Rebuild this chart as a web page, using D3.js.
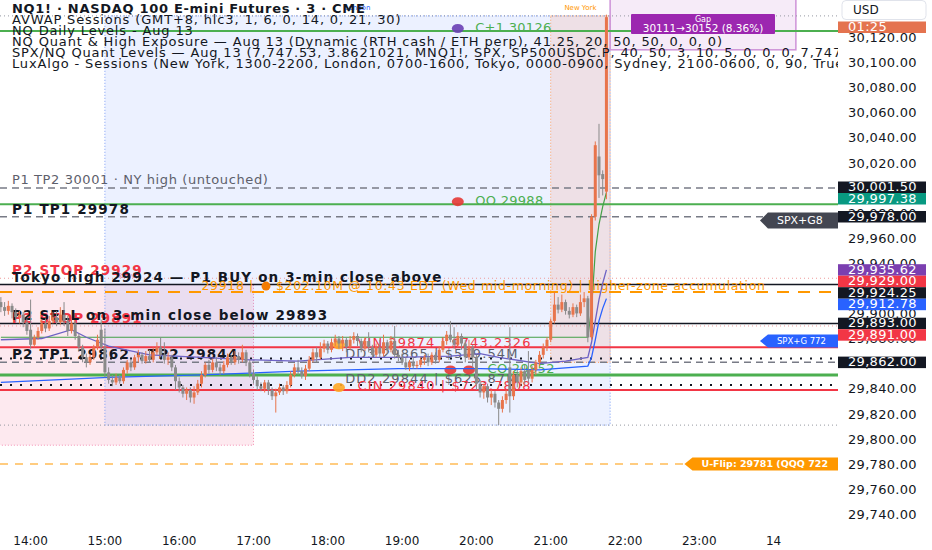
<!DOCTYPE html>
<html>
<head>
<meta charset="utf-8">
<script src="https://cdn.jsdelivr.net/npm/d3@7"></script>
<style>
  html, body { margin: 0; padding: 0; background: #fff; }
  svg { display: block; font-family: "DejaVu Sans", sans-serif; }
</style>
</head>
<body>
<svg id="chart" width="932" height="550"></svg>
<script>
// NQ1! 3-min candles, first bar at 13:36 (GMT+8)
const firstBar = "13:36";
const opens = [29910,29906,29903,29907,29902,29898,29900,29894,29888,29876,
  29882,29887,29893,29889,29895,29898,29894,29900,29895,29887,
  29893,29883,29874,29866,29862,29866,29874,29888,29874,29854,
  29848,29846,29850,29847,29856,29862,29858,29866,29868,29863,
  29867,29864,29870,29874,29868,29864,29866,29858,29847,29842,
  29837,29840,29834,29838,29845,29852,29860,29856,29862,29858,
  29855,29860,29866,29862,29867,29864,29870,29862,29853,29848,
  29843,29841,29846,29840,29835,29838,29842,29839,29844,29852,
  29858,29855,29851,29857,29864,29870,29866,29873,29877,29872,
  29878,29881,29877,29880,29874,29880,29883,29879,29873,29879,
  29874,29868,29874,29869,29878,29872,29879,29868,29866,29862,
  29858,29862,29859,29860,29864,29866,29862,29868,29864,29872,
  29879,29884,29880,29876,29883,29877,29866,29874,29866,29845,
  29838,29843,29834,29837,29830,29825,29832,29858,29835,29852,
  29846,29855,29856,29849,29856,29862,29868,29874,29880,29895,
  29908,29904,29910,29903,29900,29906,29901,29910,29913,29882,
  29978,30026,30012,29998];
const highs = [29914,29910,29911,29909,29905,29903,29902,29897,29912,29884,
  29890,29896,29897,29899,29902,29903,29906,29910,29899,29896,
  29895,29885,29876,29869,29868,29876,29884,29896,29889,29858,
  29852,29853,29852,29858,29864,29865,29868,29872,29870,29871,
  29872,29874,29878,29882,29878,29870,29868,29860,29850,29844,
  29842,29842,29843,29848,29855,29862,29864,29865,29866,29861,
  29863,29869,29868,29871,29870,29876,29872,29864,29856,29851,
  29846,29848,29848,29842,29841,29845,29844,29847,29855,29861,
  29864,29858,29860,29867,29873,29874,29878,29880,29879,29881,
  29884,29883,29883,29882,29883,29886,29885,29881,29882,29886,
  29876,29877,29880,29884,29880,29883,29891,29872,29869,29866,
  29864,29866,29863,29866,29868,29869,29870,29870,29875,29882,
  29887,29895,29890,29886,29885,29880,29880,29876,29868,29848,
  29845,29845,29840,29839,29832,29835,29840,29890,29855,29856,
  29858,29860,29871,29859,29864,29871,29877,29882,29897,29918,
  29914,29916,29912,29906,29909,29908,29916,29918,29915,29980,
  30038,30052,30015,30139];
const lows = [29902,29899,29900,29897,29894,29893,29890,29884,29873,29874,
  29880,29885,29886,29887,29893,29891,29892,29891,29883,29885,
  29880,29871,29862,29858,29860,29864,29872,29872,29850,29845,
  29843,29844,29845,29845,29853,29855,29856,29862,29861,29861,
  29862,29862,29868,29866,29861,29860,29855,29840,29838,29834,
  29832,29830,29829,29836,29842,29850,29853,29854,29855,29852,
  29853,29858,29860,29860,29861,29862,29859,29850,29845,29840,
  29839,29838,29836,29832,29822,29836,29836,29837,29842,29850,
  29852,29849,29848,29855,29862,29862,29864,29870,29869,29870,
  29875,29873,29871,29870,29872,29877,29875,29870,29871,29870,
  29866,29866,29866,29867,29869,29870,29865,29863,29860,29856,
  29855,29857,29857,29858,29860,29859,29860,29861,29862,29870,
  29876,29878,29873,29874,29872,29862,29864,29858,29840,29834,
  29833,29830,29828,29826,29812,29822,29829,29822,29832,29842,
  29843,29845,29846,29846,29852,29859,29865,29871,29878,29893,
  29901,29902,29900,29897,29898,29898,29899,29906,29878,29880,
  29975,29993,29995,29992];
const closes = [29906,29903,29907,29902,29898,29900,29894,29887,29876,29882,
  29887,29893,29889,29895,29898,29894,29900,29895,29887,29893,
  29883,29874,29866,29862,29866,29874,29880,29874,29854,29848,
  29846,29850,29847,29856,29862,29858,29866,29868,29863,29867,
  29864,29870,29874,29868,29864,29866,29858,29847,29842,29837,
  29840,29834,29838,29845,29852,29860,29856,29862,29858,29855,
  29860,29866,29862,29867,29864,29870,29862,29853,29848,29843,
  29841,29846,29840,29835,29838,29842,29839,29844,29852,29858,
  29855,29851,29857,29864,29870,29866,29873,29877,29872,29878,
  29881,29877,29880,29874,29880,29883,29879,29873,29879,29874,
  29868,29874,29869,29878,29872,29879,29868,29866,29862,29858,
  29862,29859,29860,29864,29866,29862,29868,29864,29872,29879,
  29884,29880,29876,29883,29877,29866,29874,29866,29845,29838,
  29843,29834,29837,29830,29825,29832,29837,29835,29852,29846,
  29855,29848,29849,29856,29862,29868,29874,29880,29895,29908,
  29904,29910,29903,29900,29906,29901,29910,29913,29882,29978,
  30035,30011,30008,30137];

// AVWAP session lines, [time, price]
const avwapGreen = [["13:36",29882],["21:30",29882],["21:33",29905],["21:36",29950],["21:39",29972],["21:42",29986],["21:45",29997.38]];
const avwapViolet = [["13:36",29880],["14:09",29881],["14:33",29888],["14:45",29882],["15:03",29875],["15:36",29868],["16:18",29866],["16:57",29864],["17:36",29863],["18:18",29866],["18:57",29866],["19:39",29867],["20:03",29869],["20:18",29866],["20:51",29861],["21:12",29863],["21:30",29866],["21:33",29878],["21:36",29895],["21:39",29912],["21:42",29925],["21:45",29935.62]];
const avwapBlue = [["13:36",29846],["15:03",29850],["16:18",29852],["17:36",29855],["18:57",29857],["20:03",29857],["20:51",29856],["21:30",29859],["21:33",29866],["21:36",29880],["21:39",29895],["21:42",29905],["21:45",29912.78]];

// LuxAlgo session boxes
const sessNames = ["Tokyo", "London", "New York"];
const sessStart = ["08:00", "15:00", "21:00"];
const sessEnd = ["17:00", "21:48", "21:48"];
const sessHigh = [29924, 30138, 30138];
const sessLow = [29796, 29812, 29862];

// horizontal levels
const levelPrices = [30138, 30126, 30001, 29988, 29978, 29929, 29924, 29918, 29893, 29891, 29874, 29865, 29862, 29852, 29844, 29840, 29812, 29781];
const levelKinds = ["range", "daily", "target", "daily", "target", "stopDot", "trigger", "flow", "trigger", "stopDot", "wall", "dd", "target", "dailyThick", "dd", "wall", "range", "flip"];

// notes written at the left end of the levels
const notePrices = [30001, 29978, 29929, 29924, 29891, 29893, 29862];
const noteTexts = ["P1 TP2 30001 · NY high (untouched)", "P1 TP1 29978", "P2 STOP 29929",
  "Tokyo high 29924 — P1 BUY on 3-min close above", "P2 STOP 29891",
  "P2 SELL on 3-min close below 29893", "P2 TP1 29862 · TP2 29844"];
const noteKinds = ["grey", "bold", "stop", "bold", "stop", "bold", "bold"];

// the orange flow note on the 29918 line
const flowTime = "16:18";
const flowPrice = 29918;
const flowHead = "29918 |";
const flowTail = "$202.10M @ 10:43 EDT (Wed mid-morning) | higher-zone accumulation";

// dots and their labels
const dotTimes = ["19:45", "19:45", "19:39", "19:54", "18:09", "18:09"];
const dotPrices = [30128, 29990, 29856, 29856, 29876, 29842];
const dotKinds = ["purple", "red", "red", "red", "orange", "orange"];
const tagTextTimes = ["19:59", "19:59", "20:09", "18:24", "18:14", "18:14", "18:24"];
const tagTextPrices = [30128, 29990, 29856, 29877, 29868, 29848, 29843];
const tagTexts = ["C+1 30126", "OO 29988", "CO 29852", "VIN 29874 | $743.2326", "DD3 29865 | $579.54M", "DD2 29844 | $625.87M", "CIN 29840 | $723.7808"];
const tagTextKinds = ["green", "green", "green", "red", "grey", "grey", "red"];

// arrow labels at the right edge
const arrowTexts = ["SPX+G8", "SPX+G 772", "U-Flip: 29781  (QQQ 722"];
const arrowPrices = [29975, 29879, 29781];
const arrowTimes = ["23:49", "23:49", "22:48"];
const arrowKinds = ["dark", "blue", "orange"];

// gap box
const gapFrom = 30111, gapTo = 30152, gapPct = "8.36%";
const gapStart = "21:48", gapEnd = "24:18";

// price-scale labels
const axisTagPrices = [30001.5, avwapGreen[avwapGreen.length - 1][1], 29978, avwapViolet[avwapViolet.length - 1][1], 29929, 29924.25, avwapBlue[avwapBlue.length - 1][1], 29893, 29891, 29862];
const axisTagKinds = ["level", "green", "level", "violet", "red", "level", "blue", "level", "red", "level"];
const countdown = "01:25";

const legendLines = [
  "NQ1! · NASDAQ 100 E-mini Futures · 3 · CME",
  "AVWAP Sessions (GMT+8, hlc3, 1, 6, 0, 14, 0, 21, 30)",
  "NQ Daily Levels - Aug 13",
  "NQ Quant & High Exposure — Aug 13 (Dynamic (RTH cash / ETH perp), 41.25, 20, 50, 50, 0, 0, 0)",
  "SPX/NQ Quant Levels — Aug 13 (7,747.53, 3.8621021, MNQ1!, SPX, SP500USDC.P, 40, 50, 3, 10, 5, 0, 0, 0, 7,747.53, 3.86)",
  "LuxAlgo - Sessions (New York, 1300-2200, London, 0700-1600, Tokyo, 0000-0900, Sydney, 2100-0600, 0, 90, True)"
];

// ---------------------------------------------------------------
const t = s => { const [h, m] = s.split(":").map(Number); return new Date(2025, 7, 13, h, m); };
const plotW = 838, plotH = 527;
const svg = d3.select("#chart");

const x = d3.scaleTime()
  .domain([new Date(2025, 7, 13, 13, 35, 17), new Date(2025, 7, 14, 0, 52, 1)])
  .range([0, plotW]);
const y = d3.scaleLinear().domain([29740, 30120]).range([515.5, 38.5]);

svg.append("rect").attr("width", 932).attr("height", 550).attr("fill", "#fff");
svg.append("defs").append("clipPath").attr("id", "plotClip")
  .append("rect").attr("width", plotW).attr("height", plotH);
const plot = svg.append("g").attr("clip-path", "url(#plotClip)");

// session boxes
const sessStyle = {
  "Tokyo": { fill: "rgba(244,143,177,0.2)", stroke: "#f48fb1", label: "#f06292" },
  "London": { fill: "rgba(41,98,255,0.09)", stroke: "#7b9cf5", label: "#2962ff" },
  "New York": { fill: "rgba(255,120,80,0.14)", stroke: "#ffa061", label: "#ff9800" }
};
sessNames.forEach((name, i) => {
  const x0 = x(t(sessStart[i])), x1 = x(t(sessEnd[i]));
  const y0 = y(sessHigh[i]), y1 = y(sessLow[i]);
  plot.append("rect")
    .attr("x", x0).attr("y", y0).attr("width", x1 - x0).attr("height", y1 - y0)
    .attr("fill", sessStyle[name].fill)
    .attr("stroke", sessStyle[name].stroke)
    .attr("stroke-width", 1)
    .attr("stroke-dasharray", "1,2");
  plot.append("text")
    .attr("x", (Math.max(x0, 0) + x1) / 2).attr("y", y0 - 8)
    .attr("text-anchor", "middle").attr("dominant-baseline", "middle")
    .style("font-size", "7px")
    .attr("fill", sessStyle[name].label)
    .text(name);
});

// gap box
const gx0 = x(t(gapStart)), gx1 = x(t(gapEnd));
plot.append("rect")
  .attr("x", gx0).attr("y", y(gapTo)).attr("width", gx1 - gx0).attr("height", y(gapFrom) - y(gapTo))
  .attr("fill", "rgba(186,104,200,0.13)")
  .attr("stroke", "#ce93d8").attr("stroke-width", 1.5);

// levels
const levelStyle = {
  range: { c: "#9598a1", w: 1, d: "1,3" },
  daily: { c: "#4caf50", w: 2, d: null },
  dailyThick: { c: "#4caf50", w: 3, d: null },
  target: { c: "#787b86", w: 1.5, d: "7,5" },
  stopDot: { c: "#ef9a9a", w: 1, d: "1,3" },
  trigger: { c: "#131722", w: 1.5, d: null },
  flow: { c: "#ff9800", w: 2, d: "12,9" },
  wall: { c: "#f23645", w: 2, d: null },
  dd: { c: "#131722", w: 2, d: "2,8" },
  flip: { c: "#ffcc80", w: 2, d: "8,7" }
};
plot.append("g").selectAll("line").data(levelPrices).join("line")
  .attr("x1", 0).attr("x2", plotW)
  .attr("y1", d => y(d)).attr("y2", d => y(d))
  .attr("stroke", (d, i) => levelStyle[levelKinds[i]].c)
  .attr("stroke-width", (d, i) => levelStyle[levelKinds[i]].w)
  .attr("stroke-dasharray", (d, i) => levelStyle[levelKinds[i]].d);

// level notes
const noteStyle = {
  grey: { c: "#5d606b", f: "normal 13px 'DejaVu Sans'", ls: 0.6 },
  bold: { c: "#131722", f: "bold 13.5px 'DejaVu Sans'", ls: 1.15 },
  stop: { c: "#f23645", f: "bold 13.5px 'DejaVu Sans'", ls: 1.15 }
};
plot.append("g").selectAll("text").data(notePrices).join("text")
  .attr("x", 12).attr("y", d => y(d) - 7)
  .attr("dominant-baseline", "middle")
  .style("font", (d, i) => noteStyle[noteKinds[i]].f)
  .style("letter-spacing", (d, i) => noteStyle[noteKinds[i]].ls + "px")
  .attr("fill", (d, i) => noteStyle[noteKinds[i]].c)
  .text((d, i) => noteTexts[i]);

// flow note
const fx = x(t(flowTime)), fy = y(flowPrice) - 6;
const head = plot.append("text").attr("x", fx).attr("y", fy)
  .attr("dominant-baseline", "middle").style("font-size", "12.5px").style("letter-spacing", "0.65px")
  .attr("fill", "#ff9800").text(flowHead);
const hw = head.node().getComputedTextLength();
plot.append("circle").attr("cx", fx + hw + 12).attr("cy", fy).attr("r", 4.5).attr("fill", "#f57c00");
plot.append("text").attr("x", fx + hw + 22).attr("y", fy)
  .attr("dominant-baseline", "middle").style("font-size", "12.5px").style("letter-spacing", "0.65px")
  .attr("fill", "#ff9800").text(flowTail);

// dot labels
const tagTextColor = { green: "#4caf50", red: "#f23645", grey: "#5d606b" };
plot.append("g").selectAll("text").data(tagTexts).join("text")
  .attr("x", (d, i) => x(t(tagTextTimes[i])))
  .attr("y", (d, i) => y(tagTextPrices[i]))
  .attr("dominant-baseline", "middle")
  .style("font-size", "13px")
  .style("letter-spacing", (d, i) => tagTextKinds[i] === "green" ? "0.3px" : "1.1px")
  .attr("fill", (d, i) => tagTextColor[tagTextKinds[i]])
  .text(d => d);

// dots
const dotColor = { purple: "#6a3fb5", red: "#e53935", orange: "#ffa726" };
plot.append("g").selectAll("ellipse").data(dotPrices).join("ellipse")
  .attr("cx", (d, i) => x(t(dotTimes[i])))
  .attr("cy", d => y(d))
  .attr("rx", 6).attr("ry", 4.5)
  .attr("fill", (d, i) => dotColor[dotKinds[i]])
  .attr("opacity", 0.9);

// AVWAP lines
const vline = d3.line().x(d => x(t(d[0]))).y(d => y(d[1]));
[[avwapGreen, "#43a047", 1.2], [avwapViolet, "#6d62c4", 1.3], [avwapBlue, "#2962ff", 1.3]].forEach(([pts, c, w]) => {
  plot.append("path").datum(pts).attr("d", vline)
    .attr("fill", "none").attr("stroke", c).attr("stroke-width", w);
});

// candles
const up = "#e8744b", down = "#8a8a8a";
const bars = opens.map((o, i) => ({
  t: new Date(t(firstBar).getTime() + i * 180000), o, h: highs[i], l: lows[i], c: closes[i]
}));
const cg = plot.append("g");
cg.selectAll("line").data(bars).join("line")
  .attr("x1", d => x(d.t)).attr("x2", d => x(d.t))
  .attr("y1", d => y(d.h)).attr("y2", d => y(d.l))
  .attr("stroke", d => d.c >= d.o ? up : down).attr("stroke-width", 1);
cg.selectAll("rect").data(bars).join("rect")
  .attr("x", d => x(d.t) - 1.5).attr("width", 3)
  .attr("y", d => y(Math.max(d.o, d.c)))
  .attr("height", d => Math.max(1, Math.abs(y(d.o) - y(d.c))))
  .attr("fill", d => d.c >= d.o ? up : down);

// arrow labels at the right edge
const arrowStyle = {
  dark: { fill: "#434651", h: 16, f: "11px" },
  blue: { fill: "#2962ff", h: 13, f: "8.5px" },
  orange: { fill: "#ff9800", h: 13, f: "bold 9.5px" }
};
arrowTexts.forEach((txt, i) => {
  const s = arrowStyle[arrowKinds[i]];
  const ax = x(t(arrowTimes[i])), ay = y(arrowPrices[i]);
  plot.append("path")
    .attr("d", `M${ax},${ay} L${ax + 8},${ay - s.h / 2} L${plotW},${ay - s.h / 2} L${plotW},${ay + s.h / 2} L${ax + 8},${ay + s.h / 2} Z`)
    .attr("fill", s.fill);
  plot.append("text").attr("x", ax + 17).attr("y", ay + 0.5)
    .attr("dominant-baseline", "middle")
    .style("font", `${s.f} 'DejaVu Sans'`)
    .attr("fill", "#fff").text(txt);
});

// gap label
const gcx = (gx0 + gx1) / 2, gcy = (y(gapFrom) + y(gapTo)) / 2;
plot.append("rect").attr("x", gcx - 72).attr("y", gcy - 10).attr("width", 144).attr("height", 20)
  .attr("rx", 1).attr("fill", "#9c27b0");
plot.append("text").attr("x", gcx).attr("y", gcy - 4.5).attr("text-anchor", "middle")
  .attr("dominant-baseline", "middle").style("font-size", "8px").attr("fill", "#fff").text("Gap");
plot.append("text").attr("x", gcx).attr("y", gcy + 4.5).attr("text-anchor", "middle")
  .attr("dominant-baseline", "middle").style("font-size", "10.5px").attr("fill", "#fff")
  .text(`${gapFrom}\u2192${gapTo} (${gapPct})`);

// legend
svg.append("g").selectAll("text").data(legendLines).join("text")
  .attr("clip-path", "url(#plotClip)")
  .attr("x", 12).attr("y", (d, i) => 9.5 + i * 11)
  .attr("dominant-baseline", "middle")
  .style("font-size", "13px")
  .style("font-weight", (d, i) => i === 0 ? "bold" : "normal")
  .style("letter-spacing", (d, i) => i === 0 ? "0.7px" : "0.85px")
  .attr("fill", "#131722")
  .text(d => d);

// price scale
const axisG = svg.append("g");
axisG.append("rect").attr("x", plotW).attr("y", 0).attr("width", 932 - plotW).attr("height", 550).attr("fill", "#fff");
axisG.selectAll("text.tick").data(d3.range(29740, 30121, 20)).join("text")
  .attr("class", "tick")
  .attr("x", 848).attr("y", d => y(d))
  .attr("dominant-baseline", "middle")
  .style("font-size", "13px").style("letter-spacing", "0.3px").attr("fill", "#131722")
  .text(d3.format(",.2f"));

const axisColor = { level: "#131722", green: "#089981", violet: "#7b3fb0", red: "#f23645", blue: "#2962ff" };
const order = d3.range(axisTagPrices.length).sort((a, b) => axisTagPrices[b] - axisTagPrices[a]);
let prev = -Infinity;
order.forEach(i => {
  const cy = Math.max(y(axisTagPrices[i]), prev + 11.5);
  prev = cy;
  axisG.append("rect").attr("x", plotW).attr("y", cy - 5.75).attr("width", 88).attr("height", 11.5)
    .attr("fill", axisColor[axisTagKinds[i]]);
  axisG.append("text").attr("x", 848).attr("y", cy + 0.5)
    .attr("dominant-baseline", "middle")
    .style("font-size", "13px").style("letter-spacing", "0.3px").attr("fill", "#fff")
    .text(d3.format(",.2f")(axisTagPrices[i]));
});

axisG.append("rect").attr("x", plotW).attr("y", 21.5).attr("width", 88).attr("height", 11.5).attr("fill", "#e4734f");
axisG.append("text").attr("x", 848).attr("y", 27.8).attr("dominant-baseline", "middle")
  .style("font-size", "13px").style("letter-spacing", "0.3px").attr("fill", "#fff").text(countdown);
axisG.append("rect").attr("x", 842).attr("y", 0.5).attr("width", 84).attr("height", 19).attr("rx", 4)
  .attr("fill", "#fff").attr("stroke", "#e0e3eb");
axisG.append("text").attr("x", 853).attr("y", 10.5).attr("dominant-baseline", "middle")
  .style("font-size", "12px").attr("fill", "#131722").text("USD");

// time scale
const hours = d3.timeHour.range(t("14:00"), new Date(2025, 7, 14, 0, 1));
svg.append("g").selectAll("text").data(hours).join("text")
  .attr("x", d => x(d)).attr("y", 541)
  .attr("text-anchor", "middle").attr("dominant-baseline", "middle")
  .style("font-size", "12px").attr("fill", "#131722")
  .text(d => d.getHours() === 0 ? String(d.getDate()) : d3.timeFormat("%H:%M")(d));
</script>
</body>
</html>
